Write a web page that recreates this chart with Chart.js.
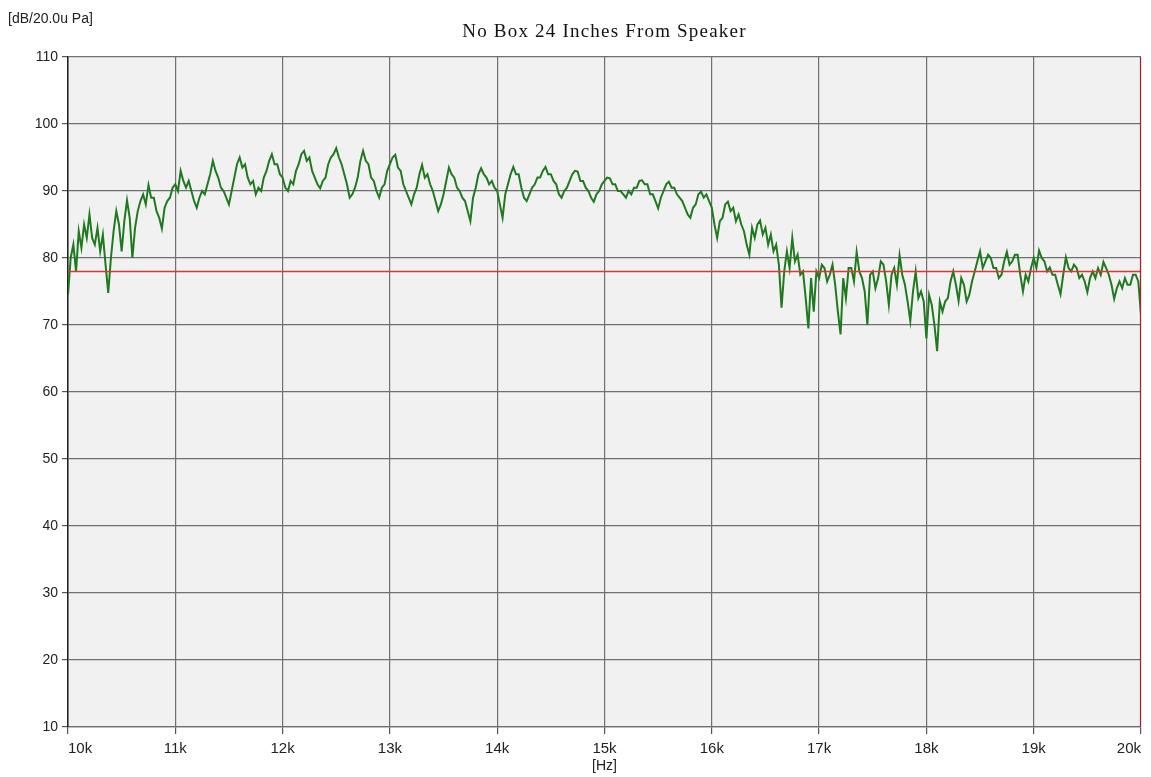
<!DOCTYPE html>
<html lang="en">
<head>
<meta charset="UTF-8" />
<title>No Box 24 Inches From Speaker</title>
<script src="https://cdn.jsdelivr.net/npm/chart.js"></script>
<style>
  html, body { margin: 0; padding: 0; background: #ffffff; }
  #wrap { width: 1151px; height: 777px; }
</style>
</head>
<body>
<div id="wrap"><canvas id="responseChart" width="1151" height="777"></canvas></div>
<script>
// --- chart data ---
const chartTitle = "No Box 24 Inches From Speaker";
const yUnitLabel = "[dB/20.0u Pa]";
const xUnitLabel = "[Hz]";

// sampling of the trace: one value every 25 Hz from 10 kHz
const freqStart = 10000;
const freqStep = 25;

const levelDb = [
  74.5, 80, 82, 78, 84, 81.5, 85, 83, 86.5, 83, 82, 84.5, 81, 83.5, 79, 74.8, 80, 84, 87, 85,
  81, 85.5, 88.6, 86, 80, 84.5, 87, 88.5, 89.5, 88, 90.9, 89, 89, 87, 86, 84.4, 87.5, 88.5, 89, 90.5,
  91, 90, 93, 91.5, 90.5, 91.5, 90, 88.5, 87.5, 89, 90, 89.5, 91, 92.5, 94.5, 93, 92, 90.5, 90, 89,
  88, 90, 92, 94, 95, 93.5, 94, 92, 91, 91.5, 89.5, 90.5, 90, 92, 93, 94.5, 95.5, 94, 94, 92.5,
  92, 90.5, 90, 91.5, 91, 93, 94, 95.5, 96, 94.5, 95, 93, 92, 91, 90.4, 91.5, 92, 94, 95, 95.5,
  96.4, 95, 94, 92.5, 91, 89, 89.5, 90.5, 92, 94.5, 96, 94.5, 94, 92, 91.5, 90, 89, 90.5, 91, 93,
  94, 95, 95.4, 93.5, 93, 91, 90, 89, 88, 89.5, 90.5, 92.5, 93.9, 92, 92.5, 91, 90, 88.5, 87, 88,
  89.5, 91.5, 93.5, 92.5, 92, 90.5, 90, 89, 88.5, 87, 85.5, 89, 90.5, 92.5, 93.4, 92.5, 92, 91, 91.5, 90.5,
  90, 88, 86, 89.5, 91, 92.5, 93.6, 92.5, 92.5, 90.5, 89, 88.5, 89.5, 90.5, 91, 92, 92, 93, 93.6, 92.5,
  92.5, 91.5, 91, 89.5, 89, 90, 90.5, 91.5, 92.5, 93, 92.9, 91.5, 91.5, 90.5, 90, 89, 88.4, 89.5, 90, 91,
  91.5, 92, 91.9, 91, 91, 90, 90, 89.5, 89, 90, 89.5, 90.5, 90.5, 91.5, 91.6, 91, 91, 89.5, 89.5, 88.5,
  87.4, 89, 90, 91, 91.4, 90.5, 90.5, 89.5, 89, 88.5, 87.5, 86.5, 86, 87.5, 88, 89.5, 89.9, 89, 89.5, 88.5,
  87.5, 85, 83, 85.5, 86, 88, 88.4, 87, 87.5, 85.5, 86.5, 85, 84, 82, 80.5, 84.5, 83, 85, 85.6, 83.5,
  84.5, 82, 83.5, 81, 82, 79, 72.6, 78, 81, 78.5, 83, 79.5, 80.5, 77.5, 78, 74, 69.5, 77, 72, 78,
  77, 79, 78.5, 76.5, 77.5, 79, 76, 72, 68.6, 77, 74, 78.5, 78.5, 76.5, 80.9, 78, 77, 75, 70, 77.5,
  78, 75.5, 77, 79.5, 79, 76.5, 73, 77.5, 78.5, 76, 80.4, 77.5, 76, 73.5, 70.6, 75, 78, 74, 75, 73.5,
  68, 74.5, 73, 70, 66.1, 73.5, 72, 73.5, 74, 76.5, 78, 76, 73.6, 77, 76, 73.5, 74.5, 76.5, 78, 79.5,
  81, 78.5, 79.5, 80.5, 80, 78.5, 78.5, 77, 77.5, 79.5, 80.9, 79, 79.5, 80.5, 80.5, 77.5, 75, 77.5, 76.5, 78.5,
  80, 78.5, 81.1, 80, 79.5, 78, 78.6, 77.5, 77.5, 76, 74.6, 77.5, 80.1, 78.5, 78, 79, 78.5, 77, 77.5, 76.5,
  74.9, 77, 78, 77, 78.5, 77.5, 79.4, 78.5, 77.5, 76, 73.9, 75.5, 76.5, 75.5, 77, 76, 76, 77.5, 77.5, 76.5,
  71.5
];

const referenceDb = 78;     // red horizontal marker
const markerFreq = 20000;   // red vertical cursor
const xMin = 10000, xMax = 20000;
const yMin = 10, yMax = 110;

const tracePoints = levelDb.map((v, i) => ({ x: freqStart + i * freqStep, y: v }));

const plotBackground = {
  id: "plotBackground",
  beforeDraw(chart) {
    const { ctx, chartArea } = chart;
    ctx.save();
    ctx.fillStyle = "#ffffff";
    ctx.fillRect(0, 0, chart.width, chart.height);
    ctx.fillStyle = "#f1f1f1";
    ctx.fillRect(chartArea.left, chartArea.top, chartArea.right - chartArea.left, chartArea.bottom - chartArea.top);
    ctx.restore();
  }
};

const extraText = {
  id: "extraText",
  afterDraw(chart) {
    const { ctx, chartArea } = chart;
    ctx.save();
    ctx.fillStyle = "#111";
    ctx.textBaseline = "middle";
    ctx.textAlign = "center";
    ctx.font = "19px 'Liberation Serif', serif";
    ctx.letterSpacing = "1.2px";
    ctx.fillText(chartTitle, (chartArea.left + chartArea.right) / 2, 32);
    ctx.letterSpacing = "0px";
    ctx.textAlign = "left";
    ctx.font = "14px 'Liberation Sans', Arial, sans-serif";
    ctx.fillStyle = "#222";
    ctx.fillText(yUnitLabel, 8, 19);
    ctx.textAlign = "center";
    ctx.font = "14px 'Liberation Sans', Arial, sans-serif";
    ctx.fillText(xUnitLabel, chart.scales.x.getPixelForValue(15000), 766);
    ctx.restore();
  }
};

new Chart(document.getElementById("responseChart"), {
  type: "line",
  data: {
    datasets: [
      {
        label: "Level",
        data: tracePoints,
        borderColor: "#1f7a1f",
        borderWidth: 2,
        pointRadius: 0,
        tension: 0,
        order: 2
      },
      {
        label: "Reference",
        data: [{ x: xMin, y: referenceDb }, { x: xMax, y: referenceDb }],
        borderColor: "#e03535",
        borderWidth: 1.5,
        pointRadius: 0,
        order: 1
      },
      {
        label: "Cursor",
        data: [{ x: markerFreq, y: yMin }, { x: markerFreq, y: yMax }],
        borderColor: "#a8202a",
        borderWidth: 2.2,
        pointRadius: 0,
        order: 0
      }
    ]
  },
  options: {
    responsive: false,
    animation: false,
    devicePixelRatio: 1,
    layout: { padding: { top: 57, right: 10, bottom: 0, left: 0 } },
    plugins: {
      legend: { display: false },
      tooltip: { enabled: false },
      title: { display: false }
    },
    scales: {
      x: {
        type: "linear",
        min: xMin,
        max: xMax,
        afterFit(scale) {
          scale.height = 50;
          scale.paddingLeft = 0;
          scale.paddingRight = 0;
        },
        ticks: {
          stepSize: 1000,
          color: "#222",
          font: { family: "'Liberation Sans', Arial, sans-serif", size: 15 },
          padding: 6,
          maxRotation: 0,
          align: "inner",
          callback: (v) => (v / 1000) + "k"
        },
        grid: { color: "#707070", lineWidth: 1.2, tickLength: 7, tickColor: "#555" },
        border: { color: "#707070", width: 1.2 }
      },
      y: {
        min: yMin,
        max: yMax,
        afterFit(scale) { scale.width = 68; },
        ticks: {
          stepSize: 10,
          color: "#222",
          font: { family: "'Liberation Sans', Arial, sans-serif", size: 14 },
          padding: 4
        },
        grid: { color: "#707070", lineWidth: 1.2, tickLength: 6, tickColor: "#555" },
        border: { color: "#222", width: 1.5 }
      }
    }
  },
  plugins: [plotBackground, extraText]
});
</script>
</body>
</html>
